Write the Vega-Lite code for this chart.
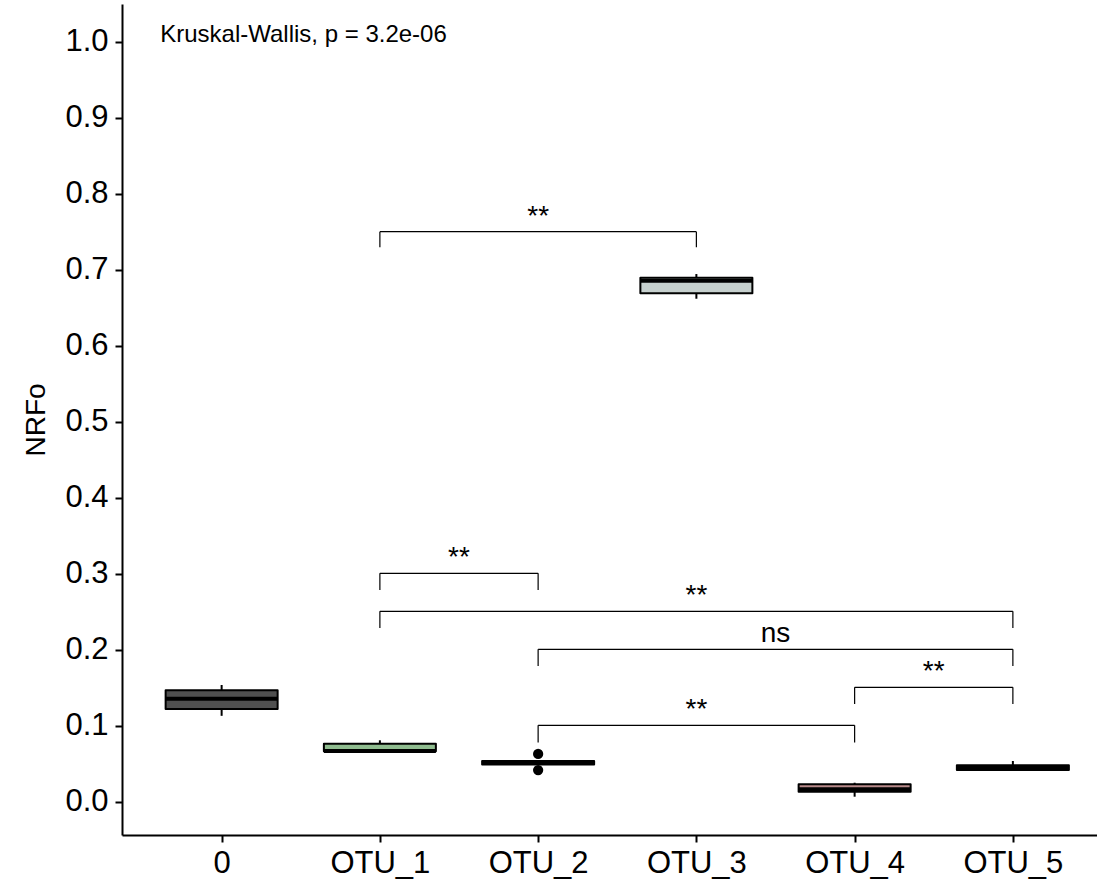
{
  "$schema": "https://vega.github.io/schema/vega-lite/v6.json",
  "width": 975,
  "height": 831,
  "autosize": "none",
  "padding": {"left": 122, "top": 4, "right": 0, "bottom": 46},
  "background": "white",
  "config": {
    "view": {"stroke": null},
    "font": "Liberation Sans",
    "axis": {"grid": false, "domainColor": "#000000", "domainWidth": 2, "tickColor": "#000000", "tickWidth": 2, "tickSize": 7, "labelColor": "#000000", "labelFont": "Liberation Sans", "labelFontSize": 31, "titleFont": "Liberation Sans", "titleColor": "#000000", "titleFontWeight": "normal"}
  },
  "datasets": {
    "boxes": [
      {"idx": 1, "group": "0", "min": 0.113, "q1": 0.122, "median": 0.1355, "q3": 0.1466, "max": 0.1536},
      {"idx": 2, "group": "OTU_1", "min": 0.0663, "q1": 0.0663, "median": 0.0668, "q3": 0.0763, "max": 0.0808},
      {"idx": 3, "group": "OTU_2", "min": 0.049, "q1": 0.049, "median": 0.0513, "q3": 0.0535, "max": 0.0535},
      {"idx": 4, "group": "OTU_3", "min": 0.6618, "q1": 0.669, "median": 0.6855, "q3": 0.6895, "max": 0.6943},
      {"idx": 5, "group": "OTU_4", "min": 0.0066, "q1": 0.0132, "median": 0.0165, "q3": 0.0229, "max": 0.025},
      {"idx": 6, "group": "OTU_5", "min": 0.0417, "q1": 0.0417, "median": 0.0445, "q3": 0.0479, "max": 0.0536}
    ],
    "outliers": [
      {"idx": 3, "value": 0.0628},
      {"idx": 3, "value": 0.0417}
    ],
    "brackets": [
      {"x1": 2, "x2": 4, "xmid": 3, "y": 0.75, "tip": 0.7295, "label": "**"},
      {"x1": 2, "x2": 3, "xmid": 2.5, "y": 0.3005, "tip": 0.2786, "label": "**"},
      {"x1": 2, "x2": 6, "xmid": 4, "y": 0.2505, "tip": 0.2286, "label": "**"},
      {"x1": 3, "x2": 6, "xmid": 4.5, "y": 0.2005, "tip": 0.1786, "label": "ns"},
      {"x1": 5, "x2": 6, "xmid": 5.5, "y": 0.1505, "tip": 0.1286, "label": "**"},
      {"x1": 3, "x2": 5, "xmid": 4, "y": 0.1005, "tip": 0.078, "label": "**"}
    ],
    "annot": [
      {"x": 0.612, "y": 0.999, "text": "Kruskal-Wallis, p = 3.2e-06"}
    ]
  },
  "layer": [
    {
      "data": {"name": "boxes"},
      "mark": {"type": "rule", "color": "#000000", "strokeWidth": 2},
      "encoding": {
        "x": {"field": "idx", "type": "quantitative", "scale": {"domain": [0.402, 6.5], "nice": false, "zero": false},
          "axis": {"title": null, "values": [1, 2, 3, 4, 5, 6], "labelExpr": "['0','OTU_1','OTU_2','OTU_3','OTU_4','OTU_5'][datum.value - 1]", "labelFlush": false, "labelOverlap": false, "labelPadding": 6}},
        "y": {"field": "min", "type": "quantitative", "scale": {"domain": [-0.0438, 1.0496], "nice": false, "zero": false},
          "axis": {"title": "NRFo", "titleFontSize": 28, "titlePadding": 14, "values": [0, 0.1, 0.2, 0.3, 0.4, 0.5, 0.6, 0.7, 0.8, 0.9, 1.0], "format": ".1f", "labelFlush": false, "labelPadding": 7}},
        "y2": {"field": "max"}
      }
    },
    {
      "data": {"name": "boxes"},
      "mark": {"type": "bar", "size": 112, "stroke": "#000000", "strokeWidth": 2, "strokeJoin": "round"},
      "encoding": {
        "x": {"field": "idx", "type": "quantitative"},
        "y": {"field": "q1", "type": "quantitative"},
        "y2": {"field": "q3"},
        "fill": {"field": "group", "type": "nominal", "legend": null,
          "scale": {"domain": ["0", "OTU_1", "OTU_2", "OTU_3", "OTU_4", "OTU_5"], "range": ["#505050", "#8fbc8f", "#6c8fb0", "#c6d0ce", "#b88a8a", "#7f7f7f"]}}
      }
    },
    {
      "data": {"name": "boxes"},
      "mark": {"type": "tick", "orient": "horizontal", "size": 112, "thickness": 4, "color": "#000000", "opacity": 1},
      "encoding": {
        "x": {"field": "idx", "type": "quantitative"},
        "y": {"field": "median", "type": "quantitative"}
      }
    },
    {
      "data": {"name": "outliers"},
      "mark": {"type": "circle", "size": 105, "color": "#000000", "opacity": 1},
      "encoding": {
        "x": {"field": "idx", "type": "quantitative"},
        "y": {"field": "value", "type": "quantitative"}
      }
    },
    {
      "data": {"name": "brackets"},
      "mark": {"type": "rule", "color": "#000000", "strokeWidth": 1.2},
      "encoding": {
        "x": {"field": "x1", "type": "quantitative"},
        "x2": {"field": "x2"},
        "y": {"field": "y", "type": "quantitative"}
      }
    },
    {
      "data": {"name": "brackets"},
      "mark": {"type": "rule", "color": "#000000", "strokeWidth": 1.2},
      "encoding": {
        "x": {"field": "x1", "type": "quantitative"},
        "y": {"field": "y", "type": "quantitative"},
        "y2": {"field": "tip"}
      }
    },
    {
      "data": {"name": "brackets"},
      "mark": {"type": "rule", "color": "#000000", "strokeWidth": 1.2},
      "encoding": {
        "x": {"field": "x2", "type": "quantitative"},
        "y": {"field": "y", "type": "quantitative"},
        "y2": {"field": "tip"}
      }
    },
    {
      "data": {"name": "brackets"},
      "mark": {"type": "text", "fontSize": 28, "color": "#000000", "align": "center", "baseline": "alphabetic", "dy": -7},
      "encoding": {
        "x": {"field": "xmid", "type": "quantitative"},
        "y": {"field": "y", "type": "quantitative"},
        "text": {"field": "label"}
      }
    },
    {
      "data": {"name": "annot"},
      "mark": {"type": "text", "fontSize": 24, "color": "#000000", "align": "left", "baseline": "alphabetic"},
      "encoding": {
        "x": {"field": "x", "type": "quantitative"},
        "y": {"field": "y", "type": "quantitative"},
        "text": {"field": "text"}
      }
    }
  ]
}
